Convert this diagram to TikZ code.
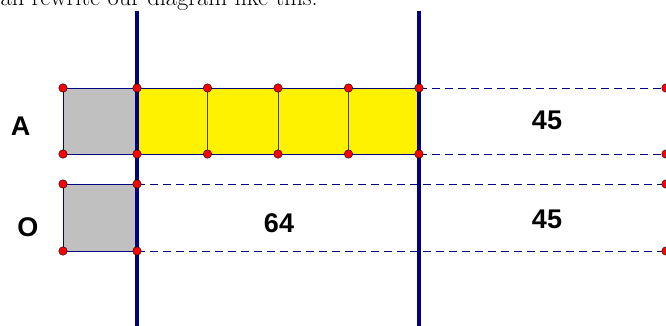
\documentclass[tikz,border=0pt]{standalone}
\usepackage{fontspec}
\setsansfont{Liberation Sans}
\definecolor{navy}{RGB}{0,0,128}
\definecolor{boxgray}{RGB}{192,192,192}
\definecolor{dotred}{RGB}{255,0,0}
\begin{document}
\begin{tikzpicture}[
    x=1pt, y=-1pt,
    dot/.style={circle, draw=black, fill=dotred, line width=0.4pt, inner sep=0pt, minimum size=8.5pt},
    bar/.style={navy, line width=3.2pt},
    edge/.style={draw=navy, line width=0.7pt},
    guide/.style={navy, line width=0.7pt, dash pattern=on 8pt off 5pt},
    sideguide/.style={navy!45, line width=0.7pt, dash pattern=on 8pt off 5pt},
    lbl/.style={font=\fontsize{27}{30}\selectfont\sffamily\bfseries}
]
    \clip (0,0) rectangle (666,326);

    % Punkte
    \foreach \x [count=\i from 0] in {63,137,207.5,278,348.5,419,666} {
        \coordinate (at\i) at (\x,88);
        \coordinate (ab\i) at (\x,154);
    }
    \foreach \x [count=\i from 0] in {63,137,666} {
        \coordinate (ot\i) at (\x,184);
        \coordinate (ob\i) at (\x,251);
    }
    \coordinate (v1t) at (137,11);
    \coordinate (v1b) at (137,330);
    \coordinate (v2t) at (419,11);
    \coordinate (v2b) at (419,330);

    % Text oben
    \node[anchor=base east, inner sep=0pt, font=\fontsize{24.5}{28}\selectfont] (intro) at (318,6) {an rewrite our diagram like this:};

    % Flaechen
    \filldraw[edge, fill=boxgray] (at0) rectangle (ab1);
    \filldraw[edge, fill=boxgray] (ot0) rectangle (ob1);
    \fill[yellow] (at1) rectangle (ab5);
    \foreach \i in {2,3,4} {
        \draw[black!75, line width=0.6pt] (at\i) -- (ab\i);
    }
    \draw[edge] (at1) -- (at5);
    \draw[edge] (ab1) -- (ab5);

    % Hilfslinien
    \draw[guide] (at5) -- (at6);
    \draw[guide] (ab5) -- (ab6);
    \draw[guide] (ot1) -- (ot2);
    \draw[guide] (ob1) -- (ob2);
    \draw[sideguide] (at6) -- (ab6);
    \draw[sideguide] (ot2) -- (ob2);

    % Balken
    \draw[bar] (v1t) -- (v1b);
    \draw[bar] (v2t) -- (v2b);

    \foreach \i in {0,...,6} {
        \node[dot] (dt\i) at (at\i) {};
        \node[dot] (db\i) at (ab\i) {};
    }
    \foreach \i in {0,1,2} {
        \node[dot] (et\i) at (ot\i) {};
        \node[dot] (eb\i) at (ob\i) {};
    }

    % Beschriftung
    \node[lbl] (labA) at (20.5,126) {A};
    \node[lbl] (labO) at (28,227) {O};
    \node[lbl] (n64) at (279,223) {64};
    \node[lbl] (n45a) at (547,120) {45};
    \node[lbl] (n45o) at (547,219) {45};

\end{tikzpicture}
\end{document}
